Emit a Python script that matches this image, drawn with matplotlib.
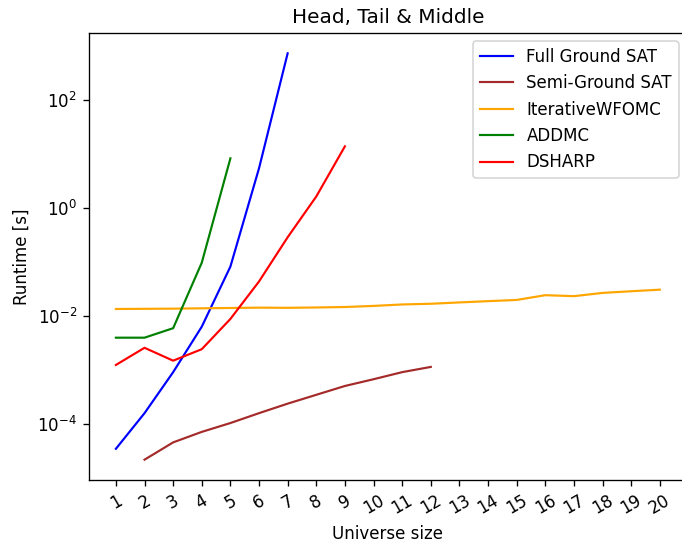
import numpy as np
import matplotlib
matplotlib.use("Agg")
import matplotlib.pyplot as plt
from matplotlib.ticker import FixedLocator, NullLocator, LogFormatterSciNotation

# runtimes in seconds per universe size
sizes = list(range(1, 21))

full_n = [1, 2, 3, 4, 5, 6, 7]
full_t = [3.5e-5, 1.6e-4, 9.2e-4, 6.4e-3, 0.083, 5.5, 740]

semi_n = list(range(2, 13))
semi_t = [2.2e-5, 4.6e-5, 7.2e-5, 1.05e-4, 1.6e-4, 2.4e-4, 3.5e-4,
          5.1e-4, 6.8e-4, 9.2e-4, 1.15e-3]

iter_n = sizes
iter_t = [0.0136, 0.0137, 0.0138, 0.0140, 0.0142, 0.0144, 0.0143, 0.0145,
          0.0148, 0.0155, 0.0165, 0.0170, 0.0180, 0.0190, 0.0200, 0.0245,
          0.0235, 0.0270, 0.0290, 0.0310]

addmc_n = [1, 2, 3, 4, 5]
addmc_t = [0.0040, 0.0040, 0.0060, 0.098, 8.4]

dsharp_n = [1, 2, 3, 4, 5, 6, 7, 8, 9]
dsharp_t = [1.25e-3, 2.6e-3, 1.5e-3, 2.45e-3, 8.9e-3, 0.044, 0.29, 1.65, 14]

y_ticks = [1e-4, 1e-2, 1e0, 1e2]

dpi = 120
plt.rcParams["lines.linewidth"] = 1.3
fig = plt.figure(figsize=(682 / dpi, 545 / dpi), dpi=dpi)
# the axes run a little past the right edge of the figure
ax = fig.add_axes([88.7 / 682, 65 / 545, (687 - 88.7) / 682, (480 - 33) / 545])

ax.plot(full_n, full_t, color="blue", label="Full Ground SAT")
ax.plot(semi_n, semi_t, color="brown", label="Semi-Ground SAT")
ax.plot(iter_n, iter_t, color="orange", label="IterativeWFOMC")
ax.plot(addmc_n, addmc_t, color="green", label="ADDMC")
ax.plot(dsharp_n, dsharp_t, color="red", label="DSHARP")

ax.set_yscale("log")
ax.yaxis.set_major_locator(FixedLocator(y_ticks))
ax.yaxis.set_major_formatter(LogFormatterSciNotation())
ax.yaxis.set_minor_locator(NullLocator())
ax.spines["right"].set_visible(False)
ax.set_xticks(sizes)
ax.set_xticklabels([str(s) for s in sizes], rotation=30)
ax.set_xlabel("Universe size")
ax.set_ylabel("Runtime [s]")
ax.set_title("Head, Tail & Middle")
ax.legend(loc="upper right")

fig.savefig("out.png", dpi=dpi)
